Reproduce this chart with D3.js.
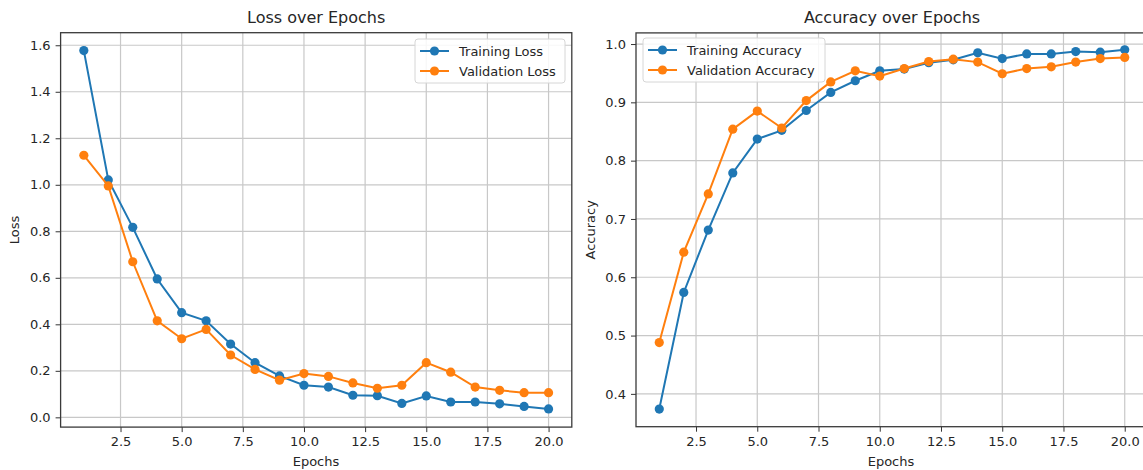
<!DOCTYPE html>
<html>
<head>
<meta charset="utf-8">
<script src="https://cdn.jsdelivr.net/npm/d3@7"></script>
<style>
  body { margin: 0; background: white; }
  text { font-family: "DejaVu Sans", sans-serif; fill: #262626; }
</style>
</head>
<body>
<svg width="1143" height="470"></svg>
<script>
// epochs 1..20
const epochs = d3.range(1, 21);

const trainLoss = [1.577, 1.021, 0.817, 0.595, 0.450, 0.415, 0.315, 0.235, 0.178, 0.138,
                   0.130, 0.095, 0.093, 0.060, 0.092, 0.066, 0.066, 0.058, 0.047, 0.036];
const valLoss   = [1.127, 0.995, 0.669, 0.415, 0.338, 0.378, 0.268, 0.206, 0.160, 0.188,
                   0.176, 0.148, 0.125, 0.138, 0.235, 0.194, 0.130, 0.116, 0.106, 0.106];

const trainAcc  = [0.374, 0.574, 0.681, 0.779, 0.837, 0.852, 0.886, 0.917, 0.937, 0.954,
                   0.957, 0.968, 0.973, 0.985, 0.975, 0.983, 0.983, 0.987, 0.986, 0.990];
const valAcc    = [0.488, 0.643, 0.743, 0.854, 0.885, 0.856, 0.903, 0.935, 0.954, 0.945,
                   0.958, 0.970, 0.974, 0.969, 0.949, 0.958, 0.961, 0.969, 0.975, 0.977];

const xTicks = [2.5, 5.0, 7.5, 10.0, 12.5, 15.0, 17.5, 20.0];
const lossTicks = [0.0, 0.2, 0.4, 0.6, 0.8, 1.0, 1.2, 1.4, 1.6];
const accTicks = [0.4, 0.5, 0.6, 0.7, 0.8, 0.9, 1.0];

const blue = "#1f77b4", orange = "#ff7f0e";

var svg = d3.select("svg");

function panel(opts){
    var x = d3.scaleLinear([0.05, 20.95], [opts.left, opts.right]);
    var y = d3.scaleLinear(opts.yDomain, [opts.bottom, opts.top]);

    var g = svg.append("g");

    // grid
    g.append("g")
        .selectAll("line").data(xTicks).enter().append("line")
        .attr("x1", d => x(d)).attr("x2", d => x(d))
        .attr("y1", opts.top).attr("y2", opts.bottom)
        .attr("stroke", "#c8c8c8").attr("stroke-width", 1.2);
    g.append("g")
        .selectAll("line").data(opts.yTicks).enter().append("line")
        .attr("x1", opts.left).attr("x2", opts.right)
        .attr("y1", d => y(d)).attr("y2", d => y(d))
        .attr("stroke", "#c8c8c8").attr("stroke-width", 1.2);

    // axes
    g.append("g")
        .attr("transform", "translate(0," + opts.bottom + ")")
        .call(d3.axisBottom(x).tickValues(xTicks).tickFormat(d3.format(".1f")).tickSize(5).tickPadding(5))
        .call(a => a.select(".domain").remove())
        .call(a => a.selectAll(".tick line").attr("stroke", "#333"))
        .call(a => a.selectAll("text").attr("font-size", "13px").attr("fill", "#262626"));
    g.append("g")
        .attr("transform", "translate(" + opts.left + ",0)")
        .call(d3.axisLeft(y).tickValues(opts.yTicks).tickFormat(d3.format(".1f")).tickSize(5).tickPadding(5))
        .call(a => a.select(".domain").remove())
        .call(a => a.selectAll(".tick line").attr("stroke", "#333"))
        .call(a => a.selectAll("text").attr("font-size", "13px").attr("fill", "#262626"));

    // series
    var line = d3.line().x((d, i) => x(epochs[i])).y(d => y(d));
    opts.series.forEach(function(s){
        g.append("path")
            .datum(s.values)
            .attr("d", line)
            .attr("fill", "none")
            .attr("stroke", s.color)
            .attr("stroke-width", 2);
        g.append("g").selectAll("circle")
            .data(s.values).enter().append("circle")
            .attr("cx", (d, i) => x(epochs[i]))
            .attr("cy", d => y(d))
            .attr("r", 4.6)
            .attr("fill", s.color);
    });

    // frame
    g.append("rect")
        .attr("x", opts.left).attr("y", opts.top)
        .attr("width", opts.right - opts.left).attr("height", opts.bottom - opts.top)
        .attr("fill", "none").attr("stroke", "#3a3a3a").attr("stroke-width", 1.3);

    // labels
    g.append("text")
        .attr("x", (opts.left + opts.right) / 2).attr("y", 23)
        .attr("text-anchor", "middle").attr("font-size", "16px")
        .text(opts.title);
    g.append("text")
        .attr("x", opts.xLabelX).attr("y", 466)
        .attr("text-anchor", "middle").attr("font-size", "13px")
        .text("Epochs");
    g.append("text")
        .attr("transform", "translate(" + opts.yLabelX + "," + (opts.top + opts.bottom) / 2 + ") rotate(-90)")
        .attr("text-anchor", "middle").attr("font-size", "13px")
        .text(opts.yLabel);

    // legend
    var L = opts.legend;
    g.append("rect")
        .attr("x", L.x).attr("y", L.y).attr("width", L.w).attr("height", 44)
        .attr("rx", 3).attr("fill", "white").attr("fill-opacity", 0.85)
        .attr("stroke", "#d6d6d6").attr("stroke-width", 1);
    opts.series.forEach(function(s, i){
        var yy = L.y + 12 + i * 20;
        g.append("line")
            .attr("x1", L.x + 5).attr("x2", L.x + 34)
            .attr("y1", yy).attr("y2", yy)
            .attr("stroke", s.color).attr("stroke-width", 2);
        g.append("circle")
            .attr("cx", L.x + 19.5).attr("cy", yy).attr("r", 4.6)
            .attr("fill", s.color);
        g.append("text")
            .attr("x", L.x + 44).attr("y", yy)
            .attr("dy", "0.35em").attr("font-size", "13px")
            .text(s.name);
    });
}

panel({
    left: 60.6, right: 571.8, top: 32.7, bottom: 427.1,
    yDomain: [-0.042, 1.654], yTicks: lossTicks,
    title: "Loss over Epochs", yLabel: "Loss", yLabelX: 19, xLabelX: 316,
    legend: {x: 415, y: 39, w: 150},
    series: [
        {name: "Training Loss", values: trainLoss, color: blue},
        {name: "Validation Loss", values: valLoss, color: orange}
    ]
});

panel({
    left: 636, right: 1148, top: 32.9, bottom: 426.7,
    yDomain: [0.3437, 1.0191], yTicks: accTicks,
    title: "Accuracy over Epochs", yLabel: "Accuracy", yLabelX: 595, xLabelX: 891,
    legend: {x: 643, y: 38, w: 182},
    series: [
        {name: "Training Accuracy", values: trainAcc, color: blue},
        {name: "Validation Accuracy", values: valAcc, color: orange}
    ]
});
</script>
</body>
</html>
